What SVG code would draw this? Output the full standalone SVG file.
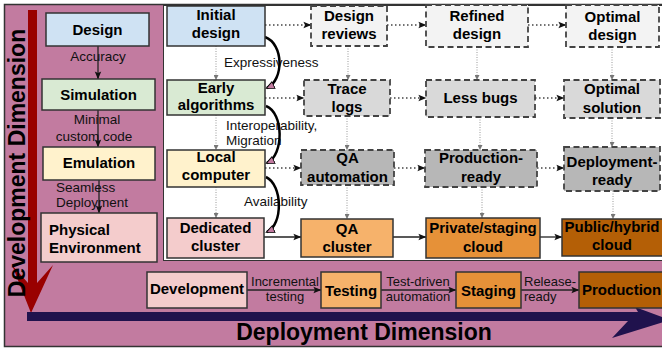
<svg xmlns="http://www.w3.org/2000/svg" width="662" height="350" viewBox="0 0 662 350">
<defs>
<style>
.n{stroke:#333;stroke-width:1.5}
.d{stroke:#434343;stroke-width:1.8;stroke-dasharray:6 3.5}
.t{font-family:"Liberation Sans",Arial,sans-serif;font-weight:bold;font-size:15px;text-anchor:middle;fill:#000}
.tl{font-family:"Liberation Sans",Arial,sans-serif;font-weight:bold;font-size:15px;fill:#000}
.l{font-family:"Liberation Sans",Arial,sans-serif;font-size:13.5px;fill:#111}
.lc{font-family:"Liberation Sans",Arial,sans-serif;font-size:13.5px;fill:#111;text-anchor:middle}
.big{font-family:"Liberation Sans",Arial,sans-serif;font-weight:bold;font-size:23px;fill:#000;text-anchor:middle}
.dot{stroke:#444;stroke-width:1.5;stroke-dasharray:1.5 2.5;fill:none;marker-end:url(#ah)}
.vd{stroke:#999;stroke-width:1;stroke-dasharray:1 1.5;fill:none;marker-end:url(#av)}
.sol{stroke:#222;stroke-width:1.3;fill:none;marker-end:url(#ah)}
.crv{stroke:#000;stroke-width:2.5;fill:none;marker-end:url(#ac)}
</style>
<marker id="ah" viewBox="0 0 10 10" refX="9.5" refY="5" markerWidth="9" markerHeight="8" markerUnits="userSpaceOnUse" orient="auto"><path d="M0,1 L10,5 L0,9 L2,5 z" fill="#111"/></marker>
<marker id="av" viewBox="0 0 10 10" refX="10" refY="5" markerWidth="5" markerHeight="5" markerUnits="userSpaceOnUse" orient="auto"><path d="M0,0 L10,5 L0,10 z" fill="#777"/></marker>
<marker id="ac" viewBox="0 0 10 10" refX="8" refY="5" markerWidth="10" markerHeight="9" markerUnits="userSpaceOnUse" orient="auto"><path d="M0,1 L9,5 L0,9 z" fill="#c27ba0" stroke="#000" stroke-width="1"/></marker>
</defs>

<g id="background">
<rect x="4.5" y="4.5" width="670" height="342" fill="#c27ba0" stroke="#333" stroke-width="1.5"/>
<rect x="163.5" y="5.5" width="510" height="255" fill="#fff" stroke="#333" stroke-width="1"/>
</g>

<g id="axes">
<path d="M28,10 L37,10 L37,283 L53,265 L31,313 L12,265 L28,283 Z" fill="#990000"/>
<path d="M27,312 L638,312 L635,307 L670,320 L612,338 L628,321 L27,321 Z" fill="#20124d"/>
<text class="big" transform="translate(25,163) rotate(-90)">Development Dimension</text>
<text class="big" x="364" y="340">Deployment Dimension</text>
</g>

<g id="connectors">
<!-- left column -->
<line class="sol" x1="98" y1="46" x2="98" y2="79"/>
<line class="sol" x1="98" y1="110" x2="98" y2="147"/>
<line class="sol" x1="99" y1="180" x2="99" y2="213"/>
<!-- horizontal dotted rows -->
<line class="dot" x1="265" y1="25" x2="311" y2="25"/>
<line class="dot" x1="387" y1="25" x2="426" y2="25"/>
<line class="dot" x1="528" y1="25" x2="566" y2="25"/>
<line class="dot" x1="265" y1="98" x2="304" y2="98"/>
<line class="dot" x1="390" y1="98" x2="426" y2="98"/>
<line class="dot" x1="535" y1="98" x2="564" y2="98"/>
<line class="dot" x1="265" y1="168" x2="301" y2="168"/>
<line class="dot" x1="394" y1="168" x2="425" y2="168"/>
<line class="dot" x1="537" y1="168" x2="564" y2="168"/>
<!-- solid row -->
<line class="sol" x1="264" y1="237" x2="301" y2="237"/>
<line class="sol" x1="393" y1="237" x2="426" y2="237"/>
<line class="sol" x1="540" y1="237" x2="562" y2="237"/>
<!-- vertical dotted -->
<line class="vd" x1="216" y1="46" x2="216" y2="80"/>
<line class="vd" x1="216" y1="115" x2="216" y2="150"/>
<line class="vd" x1="216" y1="187" x2="216" y2="218"/>
<line class="vd" x1="348" y1="46" x2="348" y2="80"/>
<line class="vd" x1="347" y1="116" x2="347" y2="150"/>
<line class="vd" x1="347" y1="185" x2="347" y2="219"/>
<line class="vd" x1="477" y1="47" x2="477" y2="80"/>
<line class="vd" x1="480" y1="117" x2="480" y2="150"/>
<line class="vd" x1="482" y1="187" x2="482" y2="218"/>
<line class="vd" x1="612" y1="47" x2="612" y2="80"/>
<line class="vd" x1="612" y1="118" x2="612" y2="147"/>
<line class="vd" x1="613" y1="191" x2="613" y2="219"/>
<!-- bottom row -->
<line class="sol" x1="247" y1="290" x2="321" y2="290"/>
<line class="sol" x1="381" y1="290" x2="456" y2="290"/>
<line class="sol" x1="521" y1="290" x2="579" y2="290"/>
</g>

<g id="labels">
<text class="lc" x="98" y="61">Accuracy</text>
<text class="lc" x="97" y="124">Minimal</text>
<text class="lc" x="94" y="141">custom code</text>
<text class="l" x="56" y="192">Seamless</text>
<text class="l" x="56" y="207">Deployment</text>
<text class="l" x="224" y="67">Expressiveness</text>
<text class="l" x="226" y="130">Interoperability,</text>
<text class="l" x="226" y="145">Migration</text>
<text class="l" x="244" y="206">Availability</text>
<text class="lc" x="285" y="286" style="font-size:13px">Incremental</text>
<text class="lc" x="285" y="301" style="font-size:13px">testing</text>
<text class="lc" x="418" y="286" style="font-size:13px">Test-driven</text>
<text class="lc" x="418" y="301" style="font-size:13px">automation</text>
<text class="l" x="524" y="286" style="font-size:13px">Release-</text>
<text class="l" x="524" y="301" style="font-size:13px">ready</text>
</g>

<g id="curves">
<path class="crv" d="M265,37 C284,44 284,80 267,88"/>
<path class="crv" d="M266,106 C284,113 284,155 267,163"/>
<path class="crv" d="M266,177 C283,185 283,225 267,232"/>
</g>

<g id="node-design"><rect class="n" x="46" y="13" width="103" height="33" fill="#cfe2f3"/><text class="t" x="97.5" y="35">Design</text></g>
<g id="node-simulation"><rect class="n" x="42" y="79" width="113" height="31" fill="#d9ead3"/><text class="t" x="98.5" y="100">Simulation</text></g>
<g id="node-emulation"><rect class="n" x="43" y="147" width="112" height="33" fill="#fff2cc"/><text class="t" x="99" y="168">Emulation</text></g>
<g id="node-physical"><rect class="n" x="41" y="213" width="116" height="49" fill="#f4cccc"/><text class="tl" x="49" y="235">Physical</text><text class="tl" x="49" y="253">Environment</text></g>

<g id="node-initial"><rect class="n" x="167" y="6" width="98" height="40" fill="#cfe2f3"/><text class="t" x="216" y="20">Initial</text><text class="t" x="216" y="38">design</text></g>
<g id="node-early"><rect class="n" x="167" y="80" width="98" height="35" fill="#d9ead3"/><text class="t" x="216" y="93">Early</text><text class="t" x="216" y="110">algorithms</text></g>
<g id="node-local"><rect class="n" x="167" y="150" width="98" height="37" fill="#fff2cc"/><text class="t" x="216" y="162">Local</text><text class="t" x="216" y="180">computer</text></g>
<g id="node-dedicated"><rect class="n" x="167" y="218" width="97" height="40" fill="#f4cccc"/><text class="t" x="215.5" y="233">Dedicated</text><text class="t" x="215.5" y="251">cluster</text></g>

<g id="node-design-reviews"><rect class="d" x="311" y="6" width="76" height="40" fill="#f3f3f3"/><text class="t" x="349" y="21">Design</text><text class="t" x="349" y="39">reviews</text></g>
<g id="node-trace-logs"><rect class="d" x="304" y="80" width="86" height="36" fill="#d9d9d9"/><text class="t" x="347" y="94">Trace</text><text class="t" x="347" y="112">logs</text></g>
<g id="node-qa-automation"><rect class="d" x="301" y="150" width="93" height="35" fill="#b7b7b7"/><text class="t" x="347.5" y="163">QA</text><text class="t" x="347.5" y="182">automation</text></g>
<g id="node-qa-cluster"><rect class="n" x="301" y="219" width="92" height="38" fill="#f6b26b"/><text class="t" x="347" y="234">QA</text><text class="t" x="347" y="252">cluster</text></g>

<g id="node-refined"><rect class="d" x="426" y="5" width="102" height="42" fill="#f3f3f3"/><text class="t" x="477" y="21">Refined</text><text class="t" x="477" y="39">design</text></g>
<g id="node-less-bugs"><rect class="d" x="426" y="80" width="109" height="37" fill="#d9d9d9"/><text class="t" x="480.5" y="103">Less bugs</text></g>
<g id="node-production-ready"><rect class="d" x="425" y="150" width="112" height="37" fill="#b7b7b7"/><text class="t" x="481" y="163">Production-</text><text class="t" x="481" y="182">ready</text></g>
<g id="node-private"><rect class="n" x="426" y="218" width="114" height="40" fill="#e69138"/><text class="t" x="483" y="233">Private/staging</text><text class="t" x="483" y="252">cloud</text></g>

<g id="node-optimal-design"><rect class="d" x="566" y="5" width="93" height="42" fill="#f3f3f3"/><text class="t" x="612.5" y="22">Optimal</text><text class="t" x="612.5" y="40">design</text></g>
<g id="node-optimal-solution"><rect class="d" x="564" y="80" width="96" height="38" fill="#d9d9d9"/><text class="t" x="612" y="94">Optimal</text><text class="t" x="612" y="113">solution</text></g>
<g id="node-deployment-ready"><rect class="d" x="564" y="147" width="96" height="44" fill="#b7b7b7"/><text class="t" x="612" y="167">Deployment-</text><text class="t" x="612" y="185">ready</text></g>
<g id="node-public"><rect class="n" x="562" y="219" width="102" height="37" fill="#b45f06"/><text class="t" x="612" y="232">Public/hybrid</text><text class="t" x="612" y="250">cloud</text></g>

<g id="node-development"><rect class="n" x="147" y="272" width="100" height="36" fill="#f4cccc"/><text class="t" x="197" y="294">Development</text></g>
<g id="node-testing"><rect class="n" x="321" y="272" width="60" height="36" fill="#f6b26b"/><text class="t" x="351" y="296">Testing</text></g>
<g id="node-staging"><rect class="n" x="456" y="272" width="65" height="36" fill="#e69138"/><text class="t" x="488.5" y="296">Staging</text></g>
<g id="node-production"><rect class="n" x="579" y="272" width="90" height="36" fill="#b45f06"/><text class="tl" x="582" y="295">Production</text></g>
</svg>
